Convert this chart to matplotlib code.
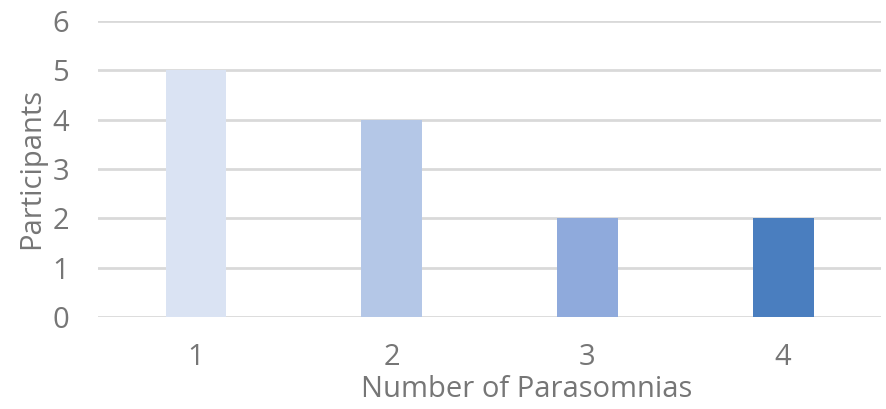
import matplotlib
matplotlib.use('Agg')
from matplotlib import pyplot as plt

# data
categories = ['1', '2', '3', '4']
participants = [5, 4, 2, 2]
bar_colors = ['#dae3f3', '#b4c7e7', '#8faadc', '#4a7ebf']

text_grey = '#767676'
grid_grey = '#d9d9d9'

plt.rcParams['font.family'] = ['Open Sans', 'DejaVu Sans']

fig = plt.figure(figsize=(8.86, 4.09), dpi=100)
ax = fig.add_axes([0.1106, 0.2249, 0.8838, 0.7238])

positions = range(1, len(categories) + 1)
ax.bar(positions, participants, width=0.31, color=bar_colors, zorder=3)

ax.set_xlim(0.5, 4.5)
ax.set_ylim(0, 6)
ax.set_yticks(range(0, 7))
ax.set_xticks(list(positions))
ax.set_xticklabels(categories)

ax.yaxis.grid(True, color=grid_grey, linewidth=2, zorder=0)
ax.set_axisbelow(True)
for side in ['top', 'right', 'left', 'bottom']:
    ax.spines[side].set_visible(False)

ax.tick_params(axis='both', length=0, labelsize=21, labelcolor=text_grey)
ax.tick_params(axis='x', pad=19)
ax.tick_params(axis='y', pad=21)

ax.set_ylabel('Participants', fontsize=21, color=text_grey, labelpad=4)
ax.set_xlabel('Number of Parasomnias', fontsize=21, color=text_grey, labelpad=-4)
ax.xaxis.set_label_coords(0.548, -0.195)

fig.savefig('out.png', dpi=100)
